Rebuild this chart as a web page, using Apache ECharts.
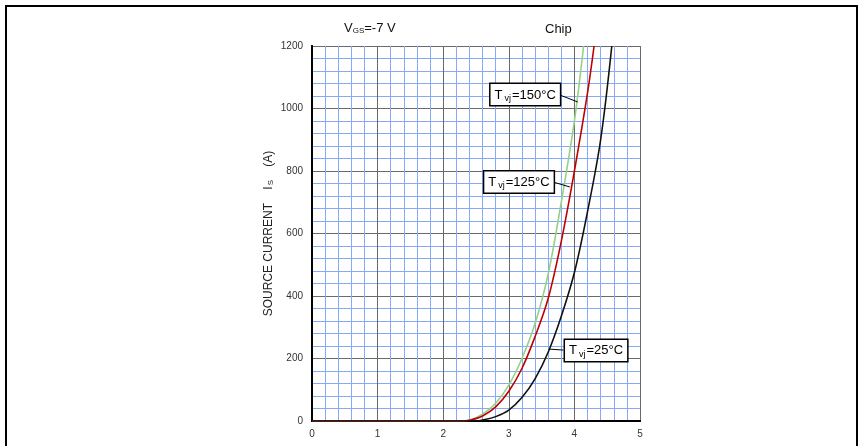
<!DOCTYPE html>
<html>
<head>
<meta charset="utf-8">
<script src="https://cdn.jsdelivr.net/npm/echarts@6/dist/echarts.min.js"></script>
<style>
  html, body { margin: 0; padding: 0; background: #fff; }
  #chart { width: 859px; height: 446px; }
</style>
</head>
<body>
<div id="chart"></div>
<script>
// source voltage (V) / source current (A)
var vT25  = [0, 2.5, 2.6, 2.8, 3.0, 3.2, 3.4, 3.6, 3.8, 4.0, 4.2, 4.4, 4.57];
var iT25  = [0, 0,   3,   14,  35,  75,  135, 220, 335, 475, 670, 900, 1200];
var vT125 = [0, 2.3, 2.4, 2.6, 2.8, 3.0, 3.2, 3.4, 3.6, 3.8, 4.0, 4.2,  4.3];
var iT125 = [0, 0,   2,   16,  45,  95,  168, 270, 392, 575, 800, 1050, 1200];
var vT150 = [0, 2.25, 2.4, 2.6, 2.8, 3.0, 3.2, 3.4, 3.6, 3.8, 4.0, 4.14];
var iT150 = [0, 0,    3,   22,  57,  115, 200, 312, 470, 700, 960, 1200];

var xTicks = [0, 1, 2, 3, 4, 5];
var yTicks = [0, 200, 400, 600, 800, 1000, 1200];

// label boxes: [leader start on curve], [leader end], [box centre]
var lab150 = { txt: '=150°C', curve: [4.05, 1021], end: [3.78, 1043], box: [3.25, 1045] };
var lab125 = { txt: '=125°C', curve: [3.93, 749],  end: [3.67, 765],  box: [3.155, 765] };
var lab25  = { txt: '=25°C',  curve: [3.625, 230], end: [3.83, 227],  box: [4.33, 226] };

function pairs(xs, ys) {
    var out = [];
    for (var i = 0; i < xs.length; i++) out.push([xs[i], ys[i]]);
    return out;
}

function annot(lab) {
    return {
        markLine: {
            silent: true,
            symbol: 'none',
            animation: false,
            lineStyle: { color: '#000', width: 1, type: 'solid' },
            label: { show: false },
            data: [[{ coord: lab.curve }, { coord: lab.end }]]
        },
        markPoint: {
            silent: true,
            symbol: 'rect',
            symbolSize: 1,
            itemStyle: { color: 'rgba(0,0,0,0)' },
            animation: false,
            data: [{ coord: lab.box }],
            label: {
                show: true,
                position: 'inside',
                formatter: '{a|T}{b|vj}{a|' + lab.txt + '}',
                backgroundColor: '#fff',
                borderColor: '#000',
                borderWidth: 1.5,
                padding: [3, 4, 2, 4],
                rich: {
                    a: { fontSize: 13, color: '#000', fontFamily: 'Liberation Sans', lineHeight: 16 },
                    b: { fontSize: 9, color: '#000', fontFamily: 'Liberation Sans', verticalAlign: 'bottom', padding: [6, 1, 0, 2] }
                }
            }
        }
    };
}

var dom = document.getElementById('chart');
var myChart = echarts.init(dom);

function curve(name, xs, ys, color, lab) {
    var s = {
        name: name,
        type: 'line',
        data: pairs(xs, ys),
        smooth: 0.35,
        showSymbol: false,
        symbol: 'none',
        clip: true,
        animation: false,
        lineStyle: { color: color, width: 1.6 }
    };
    var a = annot(lab);
    s.markLine = a.markLine;
    s.markPoint = a.markPoint;
    return s;
}

var minorBlue = '#86a9fa';
var majorGray = '#6a6a6a';
var tickFont = { fontSize: 10, color: '#333', fontFamily: 'Liberation Sans' };

var option = {
    backgroundColor: '#fff',
    animation: false,
    title: [
        {
            text: '{n|V}{s|GS}{n|=-7 V}',
            left: 339, top: 17,
            textStyle: {
                fontWeight: 'normal',
                rich: {
                    n: { fontSize: 13, fontWeight: 'normal', color: '#111', fontFamily: 'Liberation Sans' },
                    s: { fontSize: 8, fontWeight: 'normal', color: '#111', fontFamily: 'Liberation Sans', verticalAlign: 'bottom', padding: [5, 0, 0, 0] }
                }
            }
        },
        {
            text: 'Chip',
            left: 540, top: 18,
            textStyle: { fontSize: 13, fontWeight: 'normal', color: '#111', fontFamily: 'Liberation Sans' }
        }
    ],
    grid: { left: 312, right: 219, top: 46, bottom: 25 },
    xAxis: [
        {
            type: 'value', min: 0, max: 5, interval: 1,
            axisLine: { show: true, onZero: false, lineStyle: { color: '#000', width: 2 } },
            axisTick: { show: false },
            axisLabel: Object.assign({ margin: 8, formatter: function (v) { return xTicks.indexOf(v) >= 0 ? v : ''; } }, tickFont),
            splitLine: { show: true, lineStyle: { color: majorGray, width: 1 } },
            minorTick: { show: false, splitNumber: 5 },
            minorSplitLine: { show: true, lineStyle: { color: minorBlue, width: 1 } }
        },
        {
            type: 'value', min: 0, max: 5, position: 'top',
            axisLine: { show: true, lineStyle: { color: '#000', width: 2 } },
            axisTick: { show: false }, axisLabel: { show: false }, splitLine: { show: false }
        }
    ],
    yAxis: [
        {
            type: 'value', min: 0, max: 1200, interval: 200,
            name: '{t|SOURCE CURRENT    I}{u|S}{t|    (A)}',
            nameLocation: 'middle',
            nameGap: 37,
            nameRotate: 90,
            nameTextStyle: {
                rich: {
                    t: { fontSize: 12, color: '#222', fontFamily: 'Liberation Sans' },
                    u: { fontSize: 8, color: '#222', fontFamily: 'Liberation Sans', verticalAlign: 'bottom', padding: [5, 0, 0, 1] }
                }
            },
            axisLine: { show: true, onZero: false, lineStyle: { color: '#000', width: 2 } },
            axisTick: { show: false },
            axisLabel: Object.assign({ margin: 9, formatter: function (v) { return yTicks.indexOf(v) >= 0 ? v : ''; } }, tickFont),
            splitLine: { show: true, lineStyle: { color: majorGray, width: 1 } },
            minorTick: { show: false, splitNumber: 5 },
            minorSplitLine: { show: true, lineStyle: { color: minorBlue, width: 1 } }
        },
        {
            type: 'value', min: 0, max: 1200, position: 'right',
            axisLine: { show: true, lineStyle: { color: '#000', width: 2 } },
            axisTick: { show: false }, axisLabel: { show: false }, splitLine: { show: false }
        }
    ],
    graphic: [
        {
            type: 'rect',
            shape: { x: 6, y: 6, width: 851, height: 500 },
            style: { fill: null, stroke: '#000', lineWidth: 2 },
            silent: true
        }
    ],
    series: [
        curve('Tvj=150°C', vT150, iT150, '#95d087', lab150),
        curve('Tvj=125°C', vT125, iT125, '#c00000', lab125),
        curve('Tvj=25°C',  vT25,  iT25,  '#111111', lab25)
    ]
};

if (option && typeof option === 'object') {
    myChart.setOption(option, true);
}
</script>
</body>
</html>
